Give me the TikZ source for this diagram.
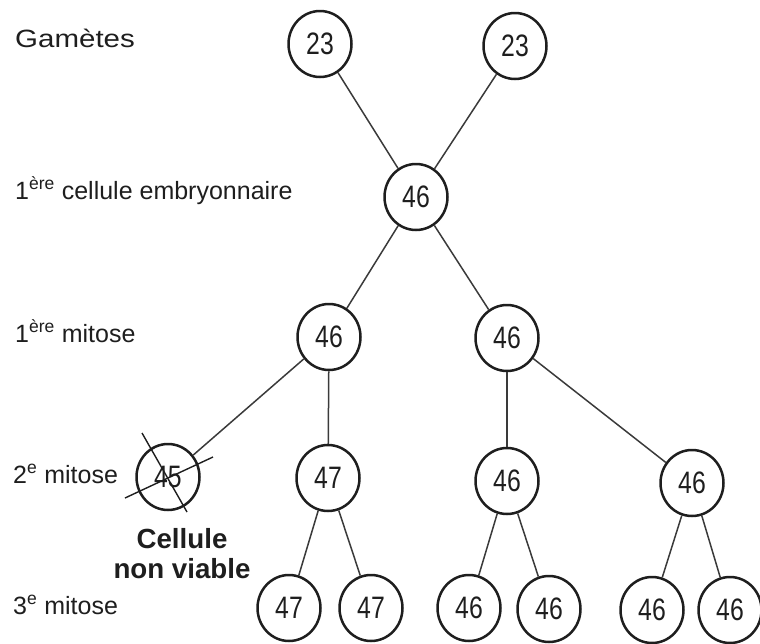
\documentclass[tikz,border=0pt]{standalone}
\usepackage{fontspec}
\setmainfont{Liberation Sans}
\newfontfamily\numfont[FakeStretch=0.8]{Liberation Sans}
\usetikzlibrary{shapes.geometric}
\definecolor{ink}{HTML}{1E1E1E}
\definecolor{wire}{HTML}{3A3A3A}
\tikzset{
  cell/.style={ellipse, draw=ink, line width=2.5pt, minimum width=63pt, minimum height=66pt, inner sep=0pt,
    font=\numfont\fontsize{31}{31}\selectfont, text=ink},
  lbl/.style={anchor=base west, inner sep=0pt, font=\fontsize{25}{30}\selectfont, text=ink},
  wirestyle/.style={draw=wire, line width=1.5pt},
  cross/.style={draw=ink, line width=1.4pt},
  note/.style={align=center, inner sep=0pt, font=\bfseries\fontsize{27.7}{30}\selectfont, text=ink}
}
\begin{document}
\begin{tikzpicture}[x=1pt,y=-1pt]
\useasboundingbox (0,0) rectangle (760,643);
% row labels
\node[lbl] (lg) at (15,47) {\scalebox{1.18}[1]{Gamètes}};
\node[lbl] (le) at (15,199) {1\textsuperscript{ère} cellule embryonnaire};
\node[lbl] (l1) at (15,342) {1\textsuperscript{ère} mitose};
\node[lbl] (l2) at (13,483) {2\textsuperscript{e} mitose};
\node[lbl] (l3) at (13,614) {3\textsuperscript{e} mitose};
% cells
\node[cell] (g1) at (320,44) {23};
\node[cell] (g2) at (515,46) {23};
\node[cell] (e) at (416,197) {46};
\node[cell] (ma) at (329,337) {46};
\node[cell] (mb) at (507,338) {46};
\node[cell] (na) at (168,477) {45};
\node[cell] (nb) at (328,478) {47};
\node[cell] (nc) at (507,481) {46};
\node[cell] (nd) at (692,483) {46};
\node[cell] (p1) at (289,608) {47};
\node[cell] (p2) at (371,608) {47};
\node[cell] (p3) at (469,608) {46};
\node[cell] (p4) at (549,609) {46};
\node[cell] (p5) at (652,610) {46};
\node[cell] (p6) at (730,610) {46};
% connectors
\draw[wirestyle] (g1) -- (e);
\draw[wirestyle] (g2) -- (e);
\draw[wirestyle] (e) -- (ma);
\draw[wirestyle] (e) -- (mb);
\draw[wirestyle] (ma) -- (na);
\draw[wirestyle] (ma) -- (nb);
\draw[wirestyle] (mb) -- (nc);
\draw[wirestyle] (mb) -- (nd);
\draw[wirestyle] (nb) -- (p1);
\draw[wirestyle] (nb) -- (p2);
\draw[wirestyle] (nc) -- (p3);
\draw[wirestyle] (nc) -- (p4);
\draw[wirestyle] (nd) -- (p5);
\draw[wirestyle] (nd) -- (p6);
% crossing out the non viable cell
\draw[cross] ([shift={(-26,-44)}]na.center) -- ([shift={(19,35)}]na.center);
\draw[cross] ([shift={(-43,21)}]na.center) -- ([shift={(45,-20)}]na.center);
\node[note, anchor=base] (nv) at (182,578) {Cellule\\non viable};
\end{tikzpicture}
\end{document}
